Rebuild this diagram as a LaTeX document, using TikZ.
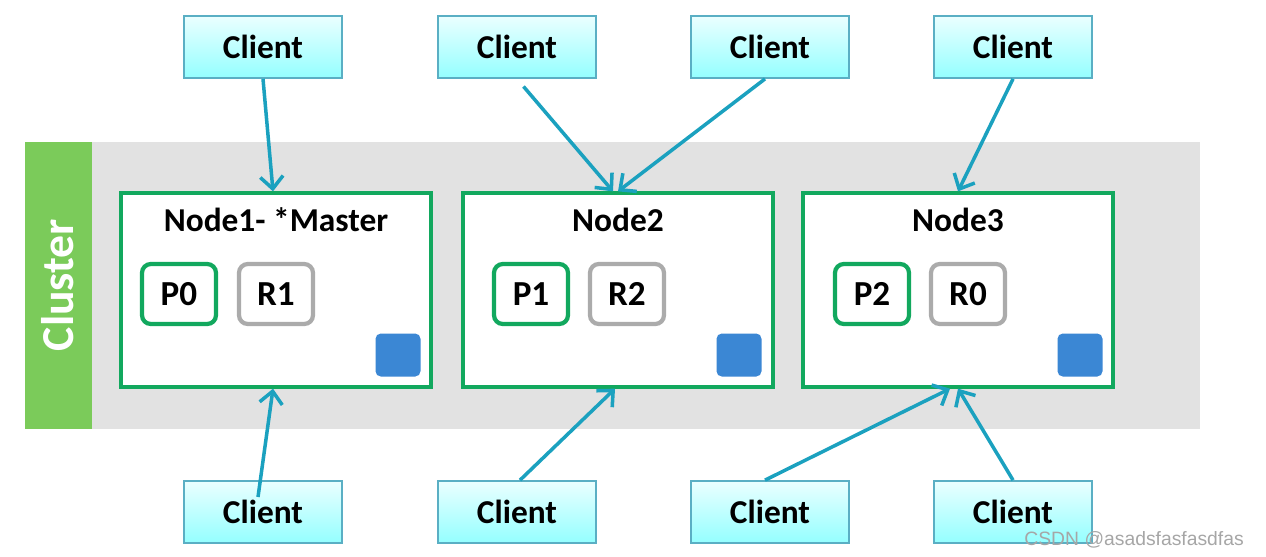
\documentclass[tikz,border=0pt]{standalone}
\usepackage{fontspec}
\setmainfont{Carlito}
\newfontfamily\markfont{Liberation Sans}
\usetikzlibrary{arrows.meta}

\definecolor{clientline}{HTML}{5AAFC4}
\definecolor{arrowblue}{HTML}{1BA1BF}
\definecolor{nodegreen}{HTML}{12A85E}
\definecolor{replgray}{HTML}{ABABAB}
\definecolor{squareblue}{HTML}{3B87D4}
\definecolor{bargreen}{HTML}{7BCB5A}
\definecolor{bggray}{HTML}{E2E2E2}

\begin{document}
\begin{tikzpicture}[x=0.02cm,y=-0.02cm,>={Straight Barb[length=7pt,width=13pt,line width=2pt]},
    font=\bfseries]
  \tikzstyle{client}=[draw=clientline,line width=1pt,top color=cyan!8,bottom color=cyan!42,
      minimum width=3.16cm,minimum height=1.24cm,font=\fontsize{19}{22}\selectfont\bfseries]
  \tikzstyle{server}=[draw=nodegreen,line width=1.9pt,fill=white,minimum width=6.2cm,minimum height=3.88cm]
  \tikzstyle{primary}=[draw=nodegreen,line width=2.4pt,rounded corners=5pt,fill=white,
      minimum width=1.48cm,minimum height=1.2cm,font=\fontsize{20}{24}\selectfont\bfseries]
  \tikzstyle{replica}=[primary,draw=replgray]
  \tikzstyle{flag}=[fill=squareblue,rounded corners=3pt,minimum width=0.9cm,minimum height=0.86cm]
  \tikzstyle{link}=[->,draw=arrowblue,line width=2pt]
  \useasboundingbox (0,0) rectangle (1266,556);

  % cluster background
  \fill[bggray] (92,142) rectangle (1200,429);
  \fill[bargreen] (25,142) rectangle (92,429);
  \node[rotate=90,text=white,font=\fontsize{26}{30}\selectfont\bfseries] (cl) at (58,285) {Cluster};

  % nodes of the cluster
  \node[server] (n1) at (276,290) {};
  \node[server] (n2) at (618,290) {};
  \node[server] (n3) at (958,290) {};
  \node[font=\fontsize{19}{22}\selectfont\bfseries] (t1) at (276,220) {Node1- *Master};
  \node[font=\fontsize{19}{22}\selectfont\bfseries] (t2) at (618,220) {Node2};
  \node[font=\fontsize{19}{22}\selectfont\bfseries] (t3) at (958,220) {Node3};

  \node[primary] (p0) at (179,294) {P0};
  \node[replica] (r1) at (276,294) {R1};
  \node[primary] (p1) at (531,294) {P1};
  \node[replica] (r2) at (627,294) {R2};
  \node[primary] (p2) at (872,294) {P2};
  \node[replica] (r0) at (968,294) {R0};

  \node[flag] (f1) at (398,355) {};
  \node[flag] (f2) at (739,355) {};
  \node[flag] (f3) at (1080,355) {};

  % clients
  \node[client] (c1) at (263,47) {Client};
  \node[client] (c2) at (517,47) {Client};
  \node[client] (c3) at (770,47) {Client};
  \node[client] (c4) at (1013,47) {Client};
  \node[client] (c5) at (263,512) {Client};
  \node[client] (c6) at (517,512) {Client};
  \node[client] (c7) at (770,512) {Client};
  \node[client] (c8) at (1013,512) {Client};

  \draw[link] (c1.south) -- ([xshift=-0.06cm]n1.north);
  \draw[link,shorten <=0.2cm] (c2.south) -- ([xshift=-0.1cm]n2.north);
  \draw[link] ([xshift=-0.1cm]c3.south) -- (n2.north);
  \draw[link] (c4.south) -- (n3.north);
  \draw[link] ([xshift=-0.1cm,yshift=0.3cm]c5.center) -- ([xshift=-0.06cm]n1.south);
  \draw[link] ([xshift=0.06cm]c6.north) -- ([xshift=-0.06cm]n2.south);
  \draw[link] ([xshift=-0.1cm]c7.north) -- ([xshift=-0.16cm]n3.south);
  \draw[link] (c8.north) -- (n3.south);

  \node[font=\markfont\fontsize{11}{13}\selectfont,text=gray!70,anchor=east] (wm) at (1250,540) {CSDN @asadsfasfasdfas};
\end{tikzpicture}
\end{document}
